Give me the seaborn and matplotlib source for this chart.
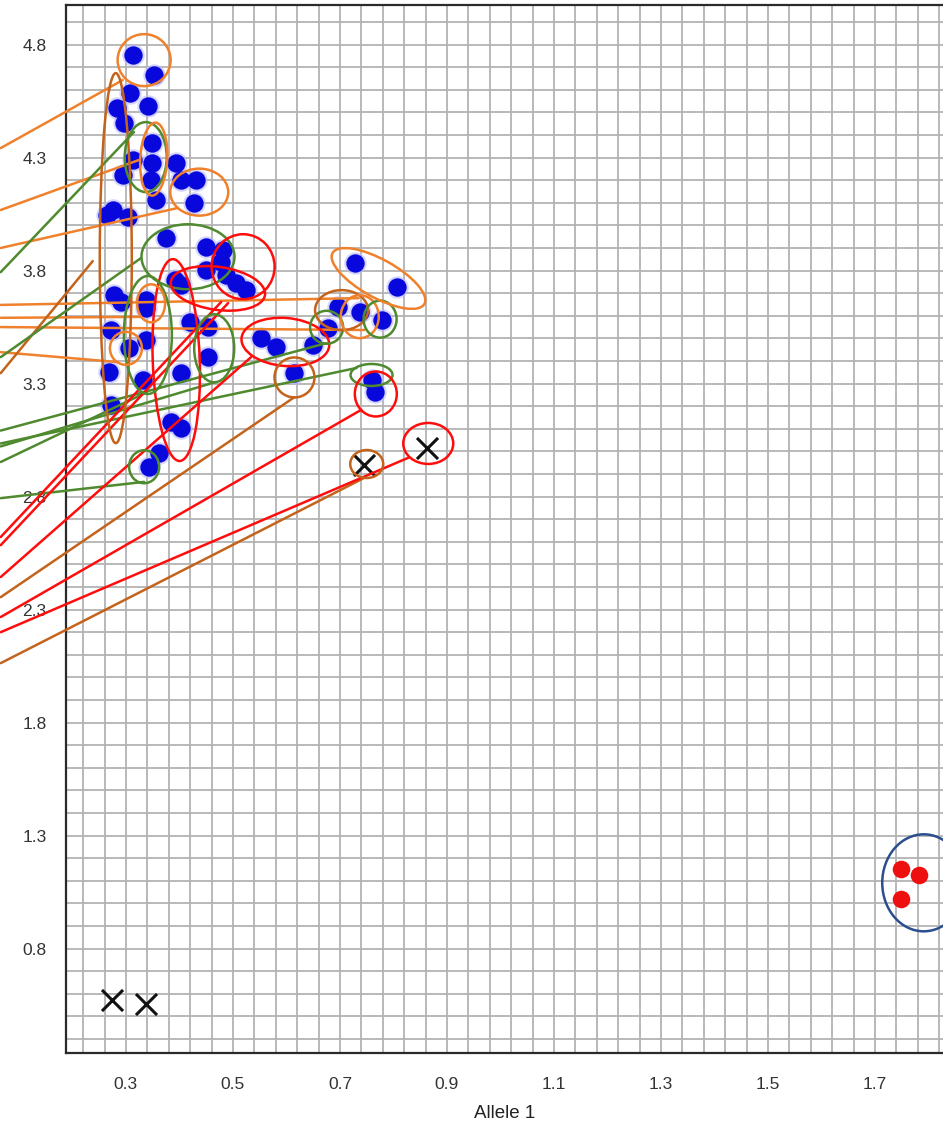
import numpy as np
import pandas as pd
import matplotlib.pyplot as plt
import seaborn as sns
from matplotlib.patches import Ellipse
from matplotlib.transforms import ScaledTranslation
from matplotlib.ticker import FixedLocator, MultipleLocator

# genotype calls (Allele 1 vs Allele 2 signal)
blue_x = [0.314, 0.353, 0.308, 0.283, 0.341, 0.297, 0.349, 0.349, 0.347, 0.313,
          0.294, 0.394, 0.403, 0.431, 0.356, 0.428, 0.275, 0.303, 0.264, 0.375,
          0.450, 0.482, 0.478, 0.450, 0.487, 0.391, 0.403, 0.506, 0.525, 0.278,
          0.291, 0.337, 0.337, 0.419, 0.453, 0.272, 0.337, 0.306, 0.453, 0.269,
          0.331, 0.403, 0.272, 0.384, 0.403, 0.362, 0.344, 0.728, 0.806, 0.697,
          0.737, 0.778, 0.678, 0.650, 0.553, 0.581, 0.615, 0.759, 0.765]
blue_y = [4.754, 4.665, 4.584, 4.518, 4.528, 4.451, 4.364, 4.276, 4.200, 4.289,
          4.223, 4.274, 4.200, 4.200, 4.112, 4.097, 4.068, 4.038, 4.046, 3.942,
          3.904, 3.891, 3.838, 3.802, 3.780, 3.758, 3.736, 3.743, 3.714, 3.692,
          3.662, 3.669, 3.634, 3.573, 3.551, 3.537, 3.492, 3.457, 3.419, 3.352,
          3.315, 3.345, 3.205, 3.131, 3.102, 2.991, 2.932, 3.832, 3.728, 3.640,
          3.618, 3.581, 3.544, 3.470, 3.500, 3.463, 3.345, 3.315, 3.264]

red_x = [1.748, 1.782, 1.748]
red_y = [1.152, 1.125, 1.019]

nocall_x = [0.274, 0.337, 0.744, 0.862]
nocall_y = [0.572, 0.554, 2.939, 3.013]

# hand drawn rings: centre x, centre y, width px, height px, angle, colour
ORANGE, BROWN, GREEN, RED, NAVY = "#f0812c", "#c4631c", "#4f8a2f", "#ff0d0d", "#2b4e8e"
rings = [
    (0.334, 4.731, 53, 52, 0, ORANGE),
    (0.281, 3.855, 32, 370, 0, BROWN),
    (0.337, 4.302, 42, 70, 0, GREEN),
    (0.352, 4.293, 27, 73, -3, ORANGE),
    (0.437, 4.147, 58, 47, 0, ORANGE),
    (0.416, 3.861, 93, 65, 0, GREEN),
    (0.519, 3.817, 63, 65, 0, RED),
    (0.472, 3.721, 95, 43, -8, RED),
    (0.394, 3.404, 47, 202, 2, RED),
    (0.341, 3.515, 48, 118, 0, GREEN),
    (0.347, 3.655, 28, 38, 0, ORANGE),
    (0.300, 3.456, 32, 33, 0, ORANGE),
    (0.465, 3.456, 40, 68, 0, GREEN),
    (0.334, 2.932, 30, 33, 0, GREEN),
    (0.598, 3.484, 88, 48, -5, RED),
    (0.615, 3.327, 40, 40, 0, BROWN),
    (0.675, 3.549, 33, 33, 0, GREEN),
    (0.703, 3.625, 53, 40, 0, BROWN),
    (0.737, 3.596, 38, 43, 0, ORANGE),
    (0.775, 3.585, 33, 37, 0, GREEN),
    (0.772, 3.765, 105, 38, -29, ORANGE),
    (0.759, 3.338, 42, 22, 0, GREEN),
    (0.767, 3.254, 42, 45, 0, RED),
    (0.865, 3.035, 50, 41, 0, RED),
    (0.750, 2.944, 33, 28, 0, BROWN),
    (1.791, 1.091, 83, 97, 0, NAVY),
]

# leader lines from the left margin to the rings: y at margin, end x, end y, colour
leaders = [
    (4.342, 0.294, 4.643, ORANGE),
    (4.068, 0.324, 4.289, ORANGE),
    (3.900, 0.397, 4.077, ORANGE),
    (3.648, 0.735, 3.678, ORANGE),
    (3.591, 0.328, 3.595, ORANGE),
    (3.550, 0.746, 3.537, ORANGE),
    (3.439, 0.285, 3.395, ORANGE),
    (3.346, 0.238, 3.842, BROWN),
    (2.355, 0.615, 3.240, BROWN),
    (2.063, 0.744, 2.881, BROWN),
    (3.793, 0.315, 4.413, GREEN),
    (3.417, 0.328, 3.855, GREEN),
    (3.092, 0.675, 3.479, GREEN),
    (3.035, 0.731, 3.369, GREEN),
    (3.022, 0.468, 3.307, GREEN),
    (2.953, 0.339, 3.262, GREEN),
    (2.793, 0.334, 2.865, GREEN),
    (2.621, 0.478, 3.661, RED),
    (2.585, 0.491, 3.656, RED),
    (2.444, 0.534, 3.417, RED),
    (2.267, 0.740, 3.184, RED),
    (2.200, 0.828, 2.972, RED),
]

sns.set_style("white")
plt.rcParams['font.family'] = ['Liberation Sans', 'DejaVu Sans']

fig = plt.figure(figsize=(9.43, 11.30), dpi=100)
ax = fig.add_axes([66 / 943, 77 / 1130, 1 - 66 / 943, 1048 / 1130])
ax.set_xlim(0.188, 1.827)
ax.set_ylim(0.338, 4.975)

# grid every 0.04 on x, 0.1 on y
ax.xaxis.set_major_locator(FixedLocator(np.round(np.arange(0.3, 1.71, 0.2), 2)))
ax.xaxis.set_minor_locator(FixedLocator(np.round(np.arange(0.22, 1.83, 0.04), 2)))
ax.yaxis.set_major_locator(FixedLocator(np.round(np.arange(0.8, 4.81, 0.5), 2)))
ax.yaxis.set_minor_locator(MultipleLocator(0.1))
ax.xaxis.set_major_formatter(plt.FuncFormatter(lambda v, p: f"{v:.1f}"))
ax.yaxis.set_major_formatter(plt.FuncFormatter(lambda v, p: f"{v:.1f}"))
ax.grid(which="both", color="#b3b3b3", lw=1.3)
ax.set_axisbelow(True)
ax.tick_params(axis="x", which="major", length=10, width=1.3, color="#b3b3b3",
               pad=7, labelsize=12.5, labelcolor="#333333")
ax.tick_params(axis="x", which="minor", length=7, width=1.3, color="#b3b3b3")
ax.tick_params(axis="y", which="both", length=9, width=1.3, color="#b3b3b3",
               pad=5, labelsize=12.5, labelcolor="#333333")
for side in ["left", "bottom", "top"]:
    ax.spines[side].set_color("#2a2a2a")
    ax.spines[side].set_linewidth(1.6)
ax.spines["right"].set_visible(False)

blue = pd.DataFrame({"a1": blue_x, "a2": blue_y})
red = pd.DataFrame({"a1": red_x, "a2": red_y})
nocall = pd.DataFrame({"a1": nocall_x, "a2": nocall_y})

sns.scatterplot(data=blue, x="a1", y="a2", ax=ax, s=260, color="#b9b9ff",
                alpha=0.6, linewidth=0, zorder=3)
sns.scatterplot(data=blue, x="a1", y="a2", ax=ax, s=175, color="#0808dc",
                linewidth=0, zorder=4)
sns.scatterplot(data=red, x="a1", y="a2", ax=ax, s=160, color="#ee1010",
                linewidth=0, zorder=4)
sns.scatterplot(data=nocall, x="a1", y="a2", ax=ax, marker="x", s=230,
                color="#111111", linewidth=2.2, zorder=4)

for cx, cy, w, h, ang, col in rings:
    tr = fig.dpi_scale_trans + ScaledTranslation(cx, cy, ax.transData)
    ax.add_patch(Ellipse((0, 0), w / 100, h / 100, angle=ang, fill=False,
                         edgecolor=col, lw=1.8, transform=tr, zorder=6,
                         clip_on=False))

left_x = 0.066
for y0, x1, y1, col in leaders:
    ax.plot([left_x, x1], [y0, y1], color=col, lw=1.8, zorder=5, clip_on=False)

ax.set_xlabel("Allele 1", fontsize=13.5, color="#222222", labelpad=10)
ax.set_ylabel("")

fig.savefig("out.png", dpi=100)
